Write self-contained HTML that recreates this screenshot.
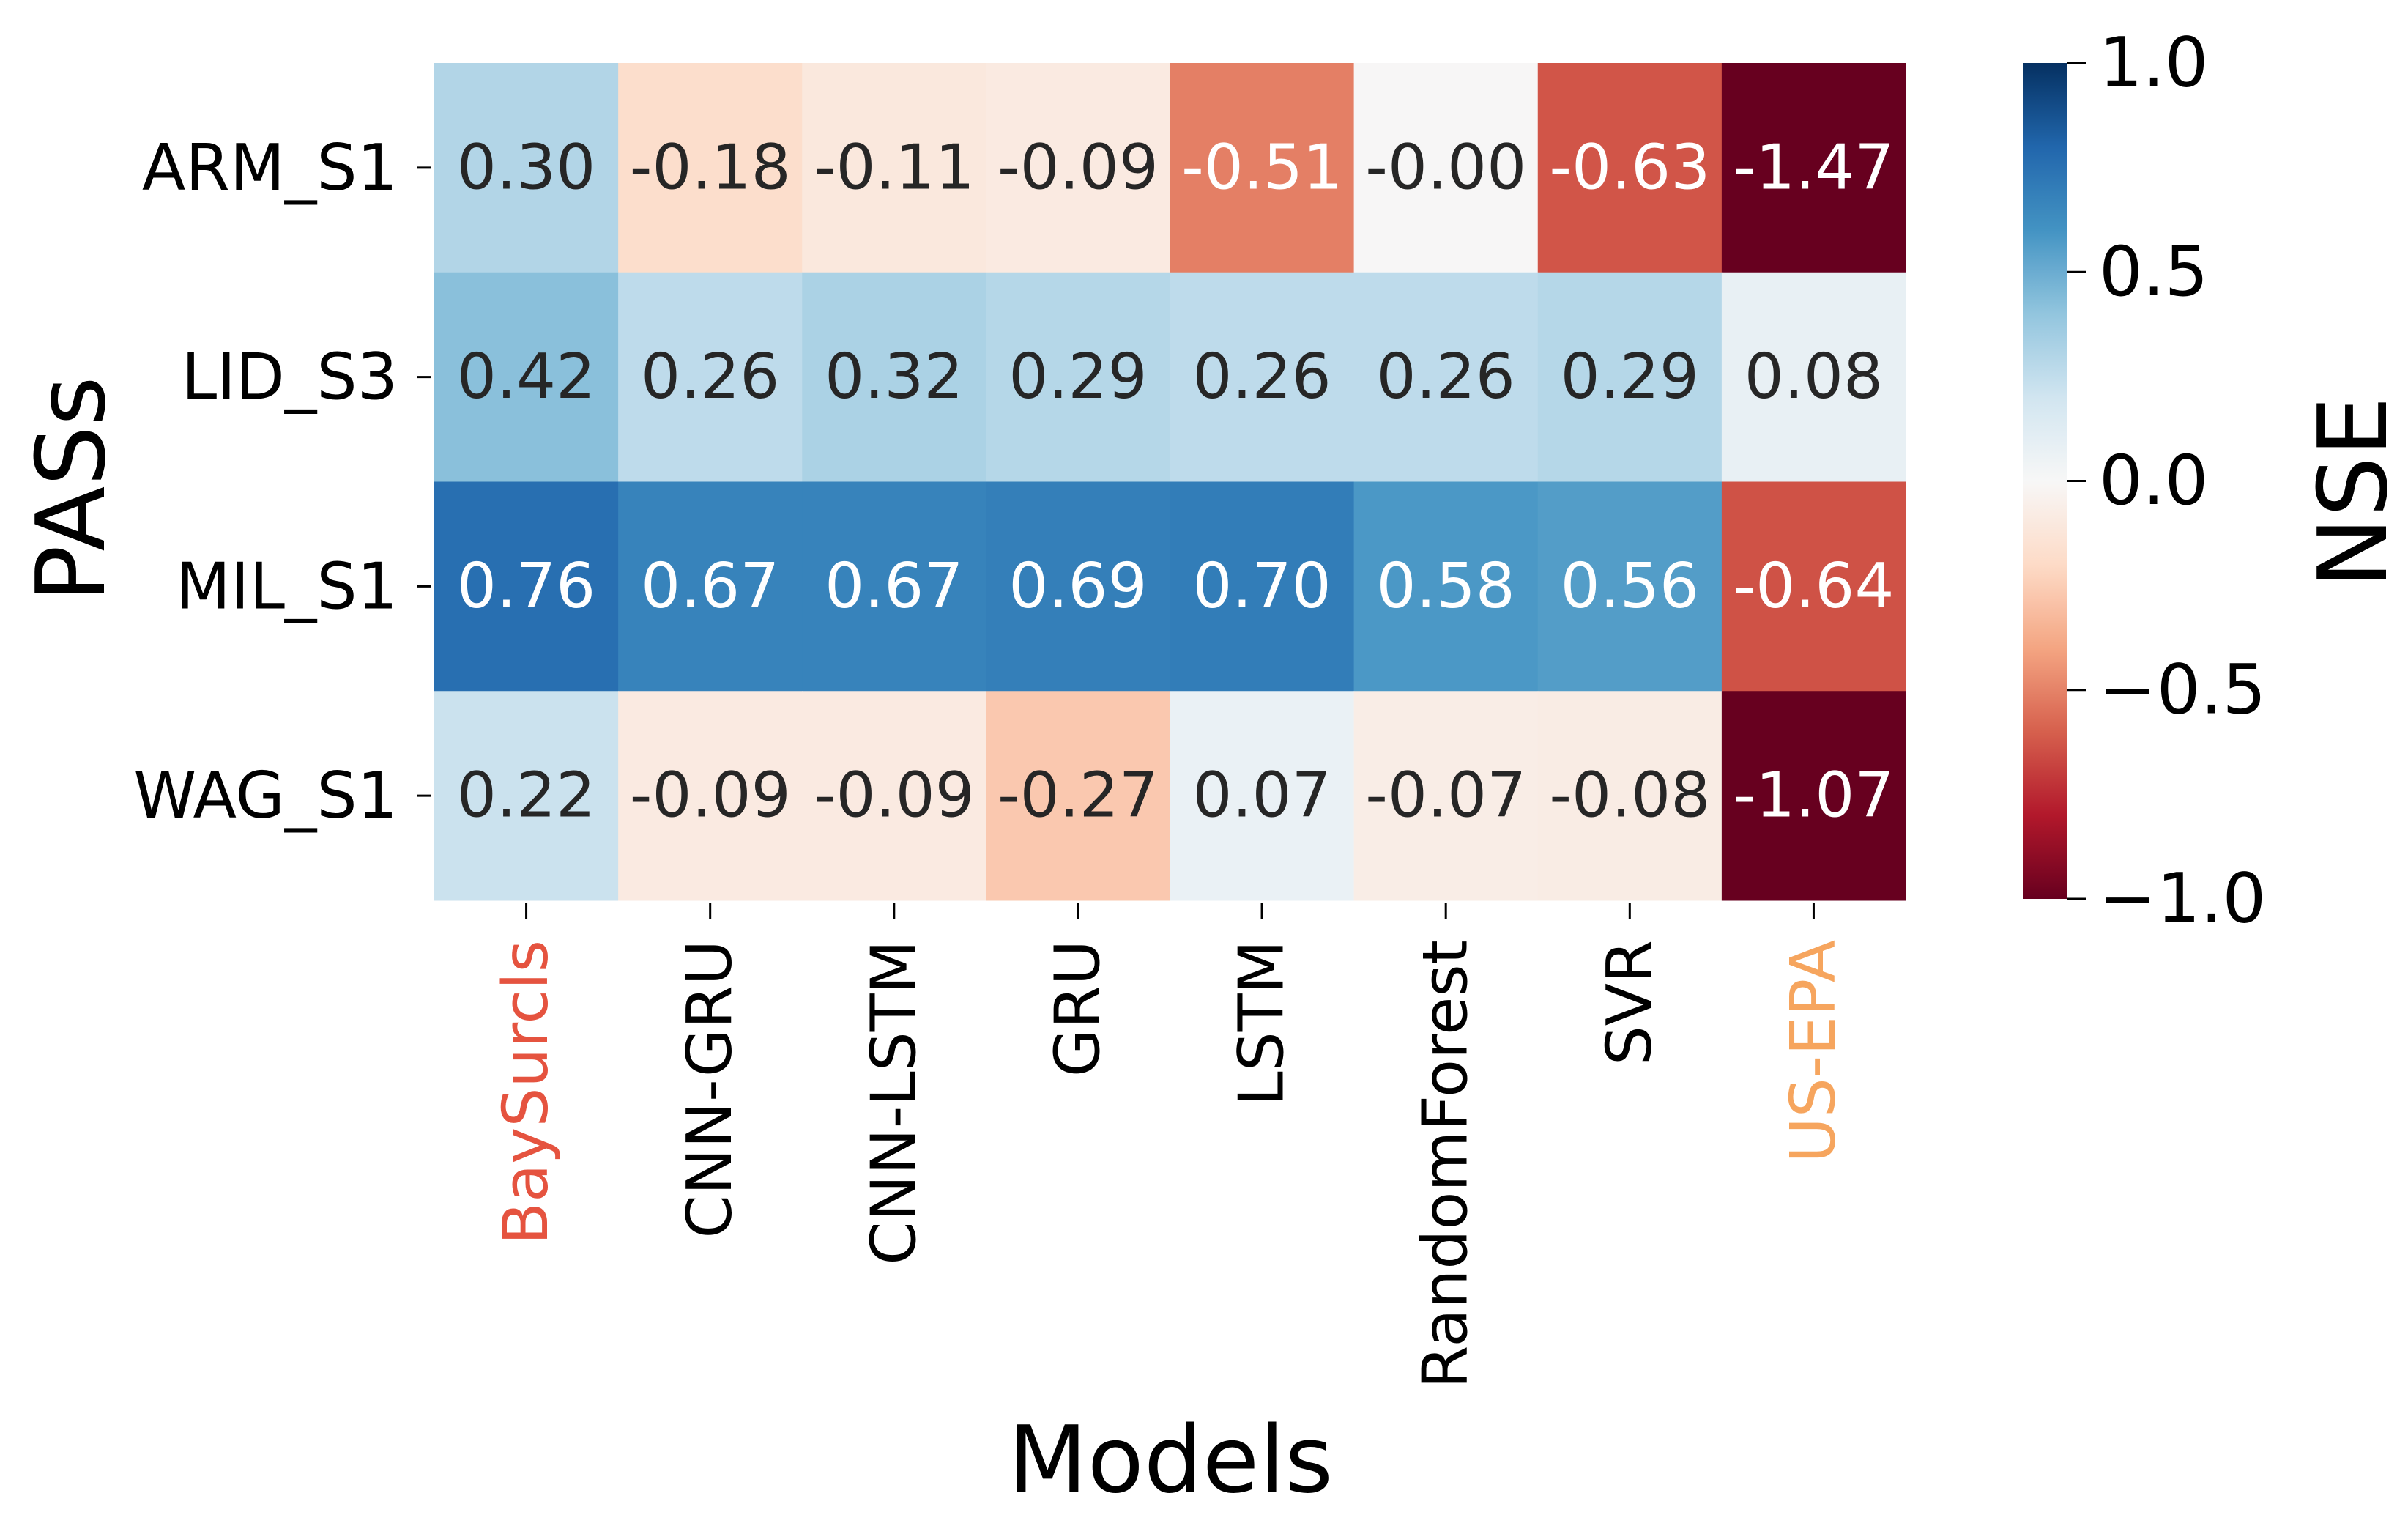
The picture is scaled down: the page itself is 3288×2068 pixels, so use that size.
<!DOCTYPE html>
<html><head><meta charset="utf-8"><style>
html,body{margin:0;padding:0;background:#fff;}
svg{display:block;font-family:"DejaVu Sans","Liberation Sans",sans-serif;}
</style></head><body>
<svg id="chart" width="3288" height="2068" viewBox="0 0 3288 2068" xmlns="http://www.w3.org/2000/svg">
<defs><linearGradient id="cbgrad" x1="0" y1="1" x2="0" y2="0"></linearGradient></defs>
<g id="cells"></g>
<g id="ylab"></g>
<g id="xlab"></g>
<g id="cbar"></g>
<text x="1598" y="2036" font-size="126" text-anchor="middle" fill="#000">Models</text>
<text transform="translate(142,668) rotate(-90)" font-size="130" text-anchor="middle" fill="#000">PASs</text>
<text transform="translate(3258,672) rotate(-90)" font-size="130" text-anchor="middle" fill="#000">NSE</text>
</svg>
<script>
const rows = ["ARM_S1","LID_S3","MIL_S1","WAG_S1"];
const models = ["BaySurcls","CNN-GRU","CNN-LSTM","GRU","LSTM","RandomForest","SVR","US-EPA"];
const armValues = [0.30,-0.18,-0.11,-0.09,-0.51,-0.004,-0.63,-1.47];
const lidValues = [0.42,0.26,0.32,0.29,0.26,0.26,0.29,0.08];
const milValues = [0.76,0.67,0.67,0.69,0.70,0.58,0.56,-0.64];
const wagValues = [0.22,-0.09,-0.09,-0.27,0.07,-0.07,-0.08,-1.07];
const cbTicks = [1.0,0.5,0.0,-0.5,-1.0];
const cbTickLabels = ["1.0","0.5","0.0","\u22120.5","\u22121.0"];
const modelColors = {"BaySurcls":"#e5533f","US-EPA":"#f6a55e"};

const values = [armValues, lidValues, milValues, wagValues];
const NS = "http://www.w3.org/2000/svg";
const X0=593, X1=2602, Y0=86, Y1=1229;
const cw=(X1-X0)/models.length, ch=(Y1-Y0)/rows.length;
const xPos = i => X0 + cw*i;
const yPos = j => Y0 + ch*j;
const vmin=-1, vmax=1;
const CB_Y0=86, CB_Y1=1227, CB_X=2762, CB_W=60;
const cbY = v => CB_Y1 - (v-vmin)/(vmax-vmin)*(CB_Y1-CB_Y0);

const rdbu = ["#67001f","#b2182b","#d6604d","#f4a582","#fddbc7","#f7f7f7","#d1e5f0","#92c5de","#4393c3","#2166ac","#053061"];
function hex(h){return [parseInt(h.substr(1,2),16),parseInt(h.substr(3,2),16),parseInt(h.substr(5,2),16)];}
function cmap(v){
  let t=(Math.min(vmax,Math.max(vmin,v))-vmin)/(vmax-vmin);
  let p=t*(rdbu.length-1), i=Math.min(rdbu.length-2,Math.floor(p)), f=p-i;
  let a=hex(rdbu[i]), b=hex(rdbu[i+1]);
  return a.map((c,k)=>Math.round(c+(b[k]-c)*f));
}
function lum(rgb){
  const c=rgb.map(x=>{x/=255;return x<=0.03928?x/12.92:Math.pow((x+0.055)/1.055,2.4);});
  return 0.2126*c[0]+0.7152*c[1]+0.0722*c[2];
}
function mk(tag,attrs,parent){const e=document.createElementNS(NS,tag);for(const k in attrs)e.setAttribute(k,attrs[k]);parent.appendChild(e);return e;}

const cells=document.getElementById('cells');
values.forEach((row,j)=>{
  row.forEach((v,i)=>{
    const rgb=cmap(v);
    const r=mk('rect',{x:xPos(i),y:yPos(j),width:cw+0.5,height:ch+0.5,fill:`rgb(${rgb.join(',')})`},cells);
    
    
    const t=mk('text',{x:xPos(i)+cw/2,y:yPos(j)+ch/2,'font-size':85,'text-anchor':'middle','dominant-baseline':'central',fill:lum(rgb)<0.408?'#ffffff':'#262626'},cells);
    t.textContent=v.toFixed(2);
    
    
  });
});

const ylab=document.getElementById('ylab');
rows.forEach((r,j)=>{
  const cy=yPos(j)+ch/2;
  const tk=mk('line',{x1:X0-24,x2:X0-4,y1:cy,y2:cy,stroke:'#000','stroke-width':3},ylab);
  
  
  const t=mk('text',{x:X0-50,y:cy,'font-size':87,'text-anchor':'end','dominant-baseline':'central',fill:'#000'},ylab);
  t.textContent=r;
  
  
});

const xlab=document.getElementById('xlab');
models.forEach((m,i)=>{
  const cx=xPos(i)+cw/2;
  const tk=mk('line',{x1:cx,x2:cx,y1:Y1+4,y2:Y1+26,stroke:'#000','stroke-width':3},xlab);
  
  
  const t=mk('text',{transform:`translate(${cx},${Y1+54}) rotate(-90)`,'font-size':85,'text-anchor':'end','dominant-baseline':'central',fill:modelColors[m]||'#000'},xlab);
  t.textContent=m;
  
  
});

const grad=document.getElementById('cbgrad');
for(let k=0;k<=40;k++){
  const v=vmin+(vmax-vmin)*k/40;
  mk('stop',{offset:(k/40),'stop-color':`rgb(${cmap(v).join(',')})`},grad);
}
const cbar=document.getElementById('cbar');
const cr=mk('rect',{x:CB_X,y:CB_Y0,width:CB_W,height:CB_Y1-CB_Y0,fill:'url(#cbgrad)'},cbar);


cbTicks.forEach((v,k)=>{
  const y=cbY(v);
  const tk=mk('line',{x1:CB_X+CB_W,x2:CB_X+CB_W+26,y1:y,y2:y,stroke:'#000','stroke-width':3},cbar);
  
  
  const t=mk('text',{x:CB_X+CB_W+44,y:y,'font-size':94,'dominant-baseline':'central',fill:'#000'},cbar);
  t.textContent=cbTickLabels[k];
  
  
});
</script>
</body></html>
